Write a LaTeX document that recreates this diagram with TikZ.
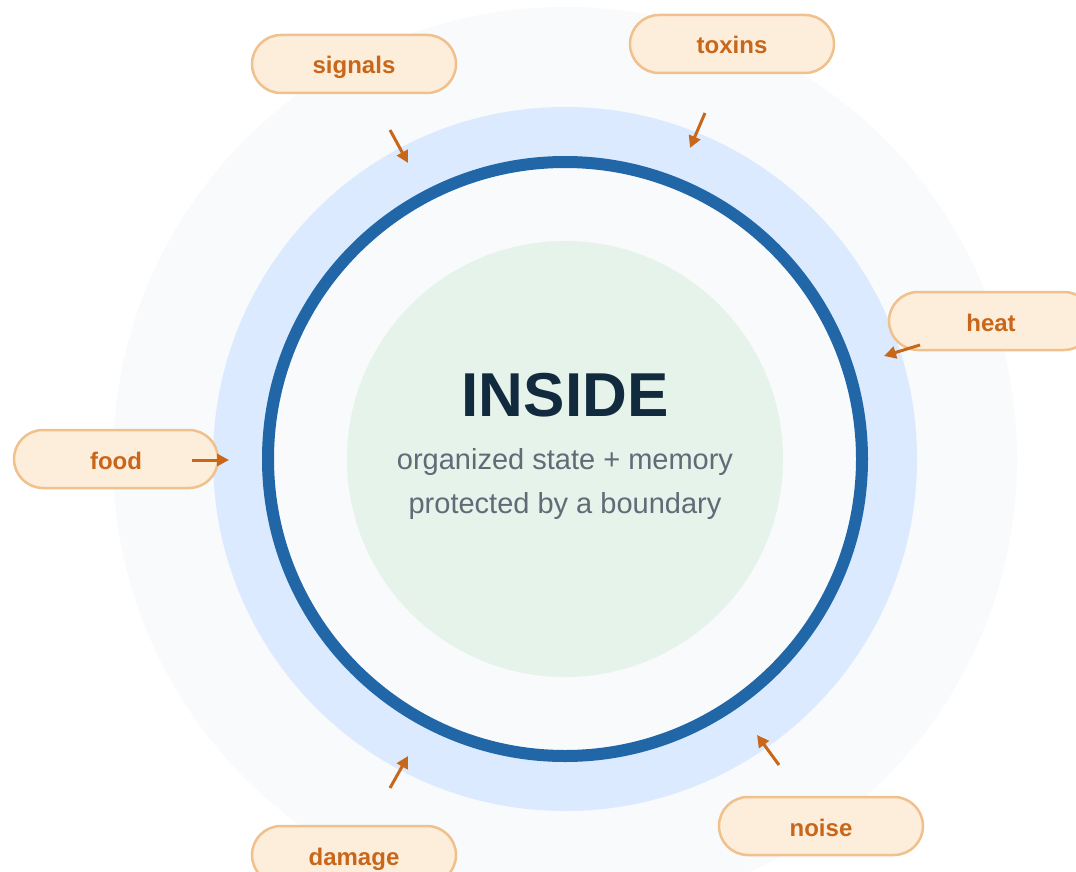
\documentclass[tikz,border=0pt]{standalone}
\usepackage{fontspec}
\setmainfont{Liberation Sans}
\usetikzlibrary{arrows.meta,shapes.misc}

\definecolor{outerbg}{HTML}{F8FAFC}
\definecolor{ringblue}{HTML}{DBEAFE}
\definecolor{wallblue}{HTML}{2166A6}
\definecolor{coregreen}{HTML}{E5F3EA}
\definecolor{titleink}{HTML}{112A3E}
\definecolor{subink}{HTML}{5F6B76}
\definecolor{pillfill}{HTML}{FDEDDB}
\definecolor{pilledge}{HTML}{F0C18C}
\definecolor{pillink}{HTML}{C8671A}

\tikzset{
  pill/.style={rounded rectangle, draw=pilledge, fill=pillfill, line width=2.5pt,
    minimum width=204pt, minimum height=58pt, inner sep=0pt,
    text height=20pt, text depth=0pt,
    text=pillink, font=\fontsize{24}{28}\selectfont\bfseries},
  push/.style={draw=pillink, line width=3pt, -{Triangle[length=12pt,width=12pt]}}
}

\begin{document}
\begin{tikzpicture}[x=1pt,y=-1pt]
    \useasboundingbox (0,0) rectangle (1076,872);
    \fill[white] (0,0) rectangle (1076,872);

    \begin{scope}
      \clip (0,0) rectangle (1076,872);
      \fill[outerbg] (565,459) circle (452pt);
      \fill[ringblue] (565,459) circle (352pt);
      \fill[outerbg] (565,459) circle (297pt);
      \draw[wallblue, line width=12pt] (565,459) circle (297pt);
      \fill[coregreen] (565,459) circle (218pt);
    \end{scope}

    \node[text=titleink, font=\fontsize{62}{70}\selectfont\bfseries] (inside) at (565,395) {INSIDE};
    \node[text=subink, font=\fontsize{29}{44}\selectfont, align=center] (state) at (565,484)
      {organized state + memory\\protected by a boundary};

    \node[pill] (signals) at (354,64) {signals};
    \node[pill] (toxins) at (732,44) {toxins};
    \node[pill] (heat) at (991,321) {heat};
    \node[pill] (food) at (116,459) {food};
    \node[pill] (damage) at (354,855) {damage};
    \node[pill] (noise) at (821,826) {noise};

    \coordinate (signalsA) at (390,130);  \coordinate (signalsB) at (408,163);
    \coordinate (toxinsA) at (705,113);   \coordinate (toxinsB) at (690,148);
    \coordinate (heatA) at (920,345);     \coordinate (heatB) at (884,356);
    \coordinate (foodA) at (192,460);     \coordinate (foodB) at (229,460);
    \coordinate (damageA) at (390,788);   \coordinate (damageB) at (408,756);
    \coordinate (noiseA) at (779,765);    \coordinate (noiseB) at (757,735);

    \draw[push] (signalsA) -- (signalsB);
    \draw[push] (toxinsA) -- (toxinsB);
    \draw[push] (heatA) -- (heatB);
    \draw[push] (foodA) -- (foodB);
    \draw[push] (damageA) -- (damageB);
    \draw[push] (noiseA) -- (noiseB);
  \end{tikzpicture}
\end{document}
